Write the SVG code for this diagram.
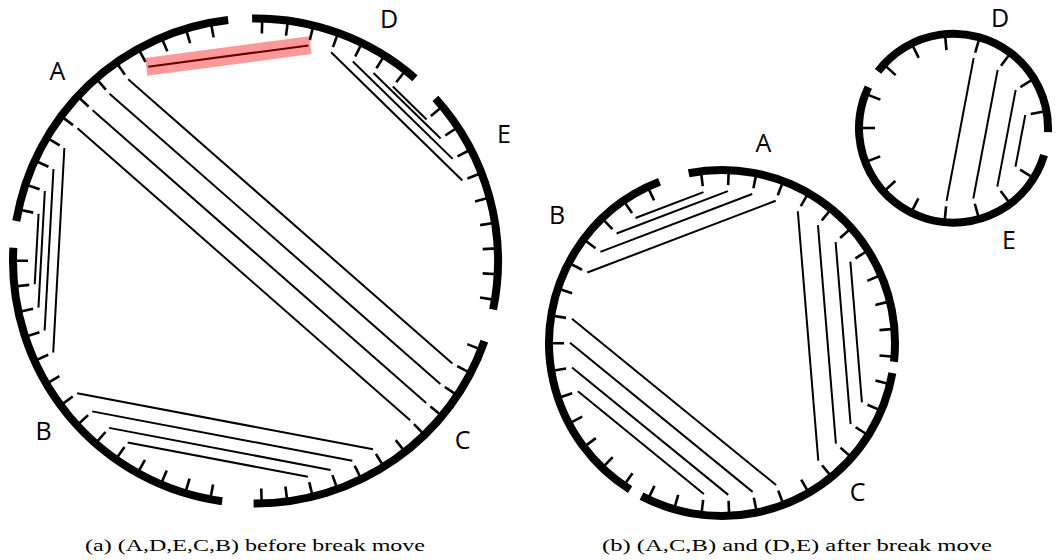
<svg xmlns="http://www.w3.org/2000/svg" xmlns:xlink="http://www.w3.org/1999/xlink" width="1061" height="560" viewBox="0 0 1061 560">
  <style>
    .arc { fill: none; stroke: #000; stroke-width: 8; stroke-linecap: butt; }
    .tk { stroke: #000; stroke-width: 2.6; stroke-linecap: butt; }
    .ch { stroke: #000; stroke-width: 2; stroke-linecap: butt; fill: none; }
    .hl { stroke: #ff0000; stroke-opacity: 0.4; stroke-width: 18; stroke-linecap: butt; }
    .lbl { font-family: "Open Sans", "DejaVu Sans", sans-serif; font-size: 25px; fill: #000; text-anchor: middle; }
    .cap { font-family: "Liberation Serif", "DejaVu Serif", serif; font-size: 17.5px; fill: #000; }
  </style>
  <defs>
    <!-- radial tick marks, one per circle, pointing inward from the top -->
    <line id="tick-a" class="tk" x1="255.5" y1="18.5" x2="255.5" y2="33.5"/>
    <line id="tick-b" class="tk" x1="722" y1="170" x2="722" y2="185"/>
    <line id="tick-c" class="tk" x1="953.5" y1="33.7" x2="953.5" y2="49.7"/>
  </defs>
  <rect width="1061" height="560" fill="#fff"/>

  <!-- ===== (a) single circle A,D,E,C,B ===== -->
  <g id="circle-a">
    <g id="a-seg-D">
      <circle class="arc" cx="255.5" cy="261" r="242.5" stroke-dasharray="177.34 2000" transform="rotate(-90.8 255.5 261)"/>
      <use xlink:href="#tick-a" transform="rotate(1.60 255.5 261)"/>
      <use xlink:href="#tick-a" transform="rotate(7.70 255.5 261)"/>
      <use xlink:href="#tick-a" transform="rotate(13.80 255.5 261)"/>
      <use xlink:href="#tick-a" transform="rotate(19.91 255.5 261)"/>
      <use xlink:href="#tick-a" transform="rotate(26.01 255.5 261)"/>
      <use xlink:href="#tick-a" transform="rotate(32.11 255.5 261)"/>
      <use xlink:href="#tick-a" transform="rotate(38.21 255.5 261)"/>
      <text class="lbl" x="389" y="28">D</text>
    </g>
    <g id="a-seg-E">
      <circle class="arc" cx="255.5" cy="261" r="242.5" stroke-dasharray="226.86 2000" transform="rotate(-42.1 255.5 261)"/>
      <use xlink:href="#tick-a" transform="rotate(50.41 255.5 261)"/>
      <use xlink:href="#tick-a" transform="rotate(56.52 255.5 261)"/>
      <use xlink:href="#tick-a" transform="rotate(62.62 255.5 261)"/>
      <use xlink:href="#tick-a" transform="rotate(68.72 255.5 261)"/>
      <use xlink:href="#tick-a" transform="rotate(74.82 255.5 261)"/>
      <use xlink:href="#tick-a" transform="rotate(80.92 255.5 261)"/>
      <use xlink:href="#tick-a" transform="rotate(87.02 255.5 261)"/>
      <use xlink:href="#tick-a" transform="rotate(93.13 255.5 261)"/>
      <use xlink:href="#tick-a" transform="rotate(99.23 255.5 261)"/>
      <text class="lbl" x="504" y="143">E</text>
    </g>
    <g id="a-seg-C">
      <circle class="arc" cx="255.5" cy="261" r="242.5" stroke-dasharray="300.92 2000" transform="rotate(19.3 255.5 261)"/>
      <use xlink:href="#tick-a" transform="rotate(111.43 255.5 261)"/>
      <use xlink:href="#tick-a" transform="rotate(117.53 255.5 261)"/>
      <use xlink:href="#tick-a" transform="rotate(123.63 255.5 261)"/>
      <use xlink:href="#tick-a" transform="rotate(129.74 255.5 261)"/>
      <use xlink:href="#tick-a" transform="rotate(135.84 255.5 261)"/>
      <use xlink:href="#tick-a" transform="rotate(141.94 255.5 261)"/>
      <use xlink:href="#tick-a" transform="rotate(148.04 255.5 261)"/>
      <use xlink:href="#tick-a" transform="rotate(154.14 255.5 261)"/>
      <use xlink:href="#tick-a" transform="rotate(160.24 255.5 261)"/>
      <use xlink:href="#tick-a" transform="rotate(166.35 255.5 261)"/>
      <use xlink:href="#tick-a" transform="rotate(172.45 255.5 261)"/>
      <use xlink:href="#tick-a" transform="rotate(178.55 255.5 261)"/>
      <text class="lbl" x="462.5" y="449">C</text>
    </g>
    <g id="a-seg-B">
      <circle class="arc" cx="255.5" cy="261" r="242.5" stroke-dasharray="360.60 2000" transform="rotate(97.9 255.5 261)"/>
      <use xlink:href="#tick-a" transform="rotate(190.75 255.5 261)"/>
      <use xlink:href="#tick-a" transform="rotate(196.85 255.5 261)"/>
      <use xlink:href="#tick-a" transform="rotate(202.96 255.5 261)"/>
      <use xlink:href="#tick-a" transform="rotate(209.06 255.5 261)"/>
      <use xlink:href="#tick-a" transform="rotate(215.16 255.5 261)"/>
      <use xlink:href="#tick-a" transform="rotate(221.26 255.5 261)"/>
      <use xlink:href="#tick-a" transform="rotate(227.36 255.5 261)"/>
      <use xlink:href="#tick-a" transform="rotate(233.46 255.5 261)"/>
      <use xlink:href="#tick-a" transform="rotate(239.57 255.5 261)"/>
      <use xlink:href="#tick-a" transform="rotate(245.67 255.5 261)"/>
      <use xlink:href="#tick-a" transform="rotate(251.77 255.5 261)"/>
      <use xlink:href="#tick-a" transform="rotate(257.87 255.5 261)"/>
      <use xlink:href="#tick-a" transform="rotate(263.97 255.5 261)"/>
      <use xlink:href="#tick-a" transform="rotate(270.07 255.5 261)"/>
      <text class="lbl" x="43.5" y="440">B</text>
    </g>
    <g id="a-seg-A">
      <circle class="arc" cx="255.5" cy="261" r="242.5" stroke-dasharray="313.20 2000" transform="rotate(189.5 255.5 261)"/>
      <use xlink:href="#tick-a" transform="rotate(282.28 255.5 261)"/>
      <use xlink:href="#tick-a" transform="rotate(288.38 255.5 261)"/>
      <use xlink:href="#tick-a" transform="rotate(294.48 255.5 261)"/>
      <use xlink:href="#tick-a" transform="rotate(300.58 255.5 261)"/>
      <use xlink:href="#tick-a" transform="rotate(306.68 255.5 261)"/>
      <use xlink:href="#tick-a" transform="rotate(312.79 255.5 261)"/>
      <use xlink:href="#tick-a" transform="rotate(318.89 255.5 261)"/>
      <use xlink:href="#tick-a" transform="rotate(324.99 255.5 261)"/>
      <use xlink:href="#tick-a" transform="rotate(331.09 255.5 261)"/>
      <use xlink:href="#tick-a" transform="rotate(337.19 255.5 261)"/>
      <use xlink:href="#tick-a" transform="rotate(343.29 255.5 261)"/>
      <use xlink:href="#tick-a" transform="rotate(349.40 255.5 261)"/>
      <text class="lbl" x="57.5" y="80">A</text>
    </g>
  </g>

  <!-- ===== (b) circle A,C,B ===== -->
  <g id="circle-b">
    <g id="b-seg-A">
      <circle class="arc" cx="722" cy="343" r="173" stroke-dasharray="323.98 2000" transform="rotate(258.9 722 343)"/>
      <use xlink:href="#tick-b" transform="rotate(353.00 722 343)"/>
      <use xlink:href="#tick-b" transform="rotate(2.23 722 343)"/>
      <use xlink:href="#tick-b" transform="rotate(11.46 722 343)"/>
      <use xlink:href="#tick-b" transform="rotate(20.69 722 343)"/>
      <use xlink:href="#tick-b" transform="rotate(29.92 722 343)"/>
      <use xlink:href="#tick-b" transform="rotate(39.15 722 343)"/>
      <use xlink:href="#tick-b" transform="rotate(48.38 722 343)"/>
      <use xlink:href="#tick-b" transform="rotate(57.62 722 343)"/>
      <use xlink:href="#tick-b" transform="rotate(66.85 722 343)"/>
      <use xlink:href="#tick-b" transform="rotate(76.08 722 343)"/>
      <use xlink:href="#tick-b" transform="rotate(85.31 722 343)"/>
      <use xlink:href="#tick-b" transform="rotate(94.54 722 343)"/>
      <text class="lbl" x="763.5" y="152">A</text>
    </g>
    <g id="b-seg-C">
      <circle class="arc" cx="722" cy="343" r="173" stroke-dasharray="325.19 2000" transform="rotate(10.0 722 343)"/>
      <use xlink:href="#tick-b" transform="rotate(103.77 722 343)"/>
      <use xlink:href="#tick-b" transform="rotate(113.00 722 343)"/>
      <use xlink:href="#tick-b" transform="rotate(122.23 722 343)"/>
      <use xlink:href="#tick-b" transform="rotate(131.46 722 343)"/>
      <use xlink:href="#tick-b" transform="rotate(140.69 722 343)"/>
      <use xlink:href="#tick-b" transform="rotate(149.92 722 343)"/>
      <use xlink:href="#tick-b" transform="rotate(159.15 722 343)"/>
      <use xlink:href="#tick-b" transform="rotate(168.38 722 343)"/>
      <use xlink:href="#tick-b" transform="rotate(177.62 722 343)"/>
      <use xlink:href="#tick-b" transform="rotate(186.85 722 343)"/>
      <use xlink:href="#tick-b" transform="rotate(196.08 722 343)"/>
      <use xlink:href="#tick-b" transform="rotate(205.31 722 343)"/>
      <text class="lbl" x="857.5" y="501">C</text>
    </g>
    <g id="b-seg-B">
      <circle class="arc" cx="722" cy="343" r="173" stroke-dasharray="382.56 2000" transform="rotate(122.1 722 343)"/>
      <use xlink:href="#tick-b" transform="rotate(214.54 722 343)"/>
      <use xlink:href="#tick-b" transform="rotate(223.77 722 343)"/>
      <use xlink:href="#tick-b" transform="rotate(233.00 722 343)"/>
      <use xlink:href="#tick-b" transform="rotate(242.23 722 343)"/>
      <use xlink:href="#tick-b" transform="rotate(251.46 722 343)"/>
      <use xlink:href="#tick-b" transform="rotate(260.69 722 343)"/>
      <use xlink:href="#tick-b" transform="rotate(269.92 722 343)"/>
      <use xlink:href="#tick-b" transform="rotate(279.15 722 343)"/>
      <use xlink:href="#tick-b" transform="rotate(288.38 722 343)"/>
      <use xlink:href="#tick-b" transform="rotate(297.62 722 343)"/>
      <use xlink:href="#tick-b" transform="rotate(306.85 722 343)"/>
      <use xlink:href="#tick-b" transform="rotate(316.08 722 343)"/>
      <use xlink:href="#tick-b" transform="rotate(325.31 722 343)"/>
      <use xlink:href="#tick-b" transform="rotate(334.54 722 343)"/>
      <text class="lbl" x="557" y="224">B</text>
    </g>
  </g>

  <!-- ===== (b) circle D,E ===== -->
  <g id="circle-c">
    <g id="c-seg-D">
      <circle class="arc" cx="953.5" cy="128.2" r="94.5" stroke-dasharray="239.32 2000" transform="rotate(217 953.5 128.2)"/>
      <use xlink:href="#tick-c" transform="rotate(312.50 953.5 128.2)"/>
      <use xlink:href="#tick-c" transform="rotate(333.68 953.5 128.2)"/>
      <use xlink:href="#tick-c" transform="rotate(354.85 953.5 128.2)"/>
      <use xlink:href="#tick-c" transform="rotate(16.03 953.5 128.2)"/>
      <use xlink:href="#tick-c" transform="rotate(37.21 953.5 128.2)"/>
      <use xlink:href="#tick-c" transform="rotate(58.38 953.5 128.2)"/>
      <use xlink:href="#tick-c" transform="rotate(79.56 953.5 128.2)"/>
      <text class="lbl" x="1000" y="27">D</text>
    </g>
    <g id="c-seg-E">
      <circle class="arc" cx="953.5" cy="128.2" r="94.5" stroke-dasharray="311.56 2000" transform="rotate(16.6 953.5 128.2)"/>
      <use xlink:href="#tick-c" transform="rotate(121.91 953.5 128.2)"/>
      <use xlink:href="#tick-c" transform="rotate(143.09 953.5 128.2)"/>
      <use xlink:href="#tick-c" transform="rotate(164.26 953.5 128.2)"/>
      <use xlink:href="#tick-c" transform="rotate(185.44 953.5 128.2)"/>
      <use xlink:href="#tick-c" transform="rotate(206.62 953.5 128.2)"/>
      <use xlink:href="#tick-c" transform="rotate(227.79 953.5 128.2)"/>
      <use xlink:href="#tick-c" transform="rotate(248.97 953.5 128.2)"/>
      <use xlink:href="#tick-c" transform="rotate(270.15 953.5 128.2)"/>
      <use xlink:href="#tick-c" transform="rotate(291.32 953.5 128.2)"/>
      <text class="lbl" x="1009" y="249">E</text>
    </g>
  </g>

  <!-- ===== chords between ticks ===== -->
  <g id="connectors">
    <g id="chords-a">
      <!-- A to C -->
      <line class="ch" x1="128.14" y1="79.16" x2="452.37" y2="363.61"/>
      <line class="ch" x1="109.53" y1="93.72" x2="440.34" y2="383.94"/>
      <line class="ch" x1="92.62" y1="110.17" x2="426.20" y2="402.95"/>
      <line class="ch" x1="77.52" y1="128.31" x2="410.15" y2="420.29"/>
      <!-- A to B -->
      <line class="ch" x1="64.36" y1="148.05" x2="53.21" y2="352.46"/>
      <line class="ch" x1="53.46" y1="169.03" x2="44.64" y2="330.46"/>
      <line class="ch" x1="44.82" y1="191.00" x2="38.45" y2="307.64"/>
      <line class="ch" x1="38.58" y1="213.78" x2="34.72" y2="284.31"/>
      <!-- D to E -->
      <line class="ch" x1="331.09" y1="52.28" x2="462.36" y2="180.44"/>
      <line class="ch" x1="352.87" y1="61.49" x2="452.64" y2="158.90"/>
      <line class="ch" x1="373.52" y1="72.97" x2="440.65" y2="138.52"/>
      <line class="ch" x1="392.81" y1="86.55" x2="426.55" y2="119.50"/>
      <!-- B to C -->
      <line class="ch" x1="77.17" y1="393.18" x2="373.00" y2="449.34"/>
      <line class="ch" x1="92.17" y1="411.36" x2="352.34" y2="460.78"/>
      <line class="ch" x1="109.09" y1="427.88" x2="330.56" y2="469.92"/>
      <line class="ch" x1="127.65" y1="442.49" x2="307.89" y2="476.74"/>
      <!-- A to D, highlighted -->
      <line class="ch" x1="148.19" y1="66.66" x2="308.45" y2="45.42"/>
      <line class="hl" x1="146.2" y1="66.9" x2="310.4" y2="45.2"/>
    </g>
    <g id="chords-b">
      <!-- A to B -->
      <line class="ch" x1="703.47" y1="192.14" x2="635.50" y2="218.03"/>
      <line class="ch" x1="727.91" y1="191.12" x2="616.56" y2="233.51"/>
      <line class="ch" x1="752.20" y1="194.04" x2="600.37" y2="251.85"/>
      <line class="ch" x1="775.70" y1="200.80" x2="587.33" y2="272.53"/>
      <!-- A to C -->
      <line class="ch" x1="797.82" y1="211.26" x2="818.29" y2="460.60"/>
      <line class="ch" x1="817.96" y1="225.14" x2="835.91" y2="443.64"/>
      <line class="ch" x1="835.62" y1="242.04" x2="850.58" y2="424.06"/>
      <line class="ch" x1="850.36" y1="261.60" x2="861.92" y2="402.39"/>
      <!-- B to C -->
      <line class="ch" x1="571.93" y1="318.83" x2="776.10" y2="485.04"/>
      <line class="ch" x1="570.00" y1="342.79" x2="752.61" y2="491.88"/>
      <line class="ch" x1="572.00" y1="367.59" x2="728.31" y2="494.86"/>
      <line class="ch" x1="577.89" y1="391.34" x2="703.87" y2="493.92"/>
    </g>
    <g id="chords-c">
      <!-- D to E -->
      <line class="ch" x1="973.66" y1="58.04" x2="946.58" y2="200.87"/>
      <line class="ch" x1="997.64" y1="70.06" x2="973.30" y2="198.46"/>
      <line class="ch" x1="1015.67" y1="89.93" x2="997.34" y2="186.57"/>
      <line class="ch" x1="1025.29" y1="114.97" x2="1015.47" y2="166.79"/>
    </g>
  </g>

  <!-- captions -->
  <text class="cap" x="85" y="551" textLength="340" lengthAdjust="spacingAndGlyphs">(a) (A,D,E,C,B) before break move</text>
  <text class="cap" x="602" y="551" textLength="390" lengthAdjust="spacingAndGlyphs">(b) (A,C,B) and (D,E) after break move</text>
</svg>
